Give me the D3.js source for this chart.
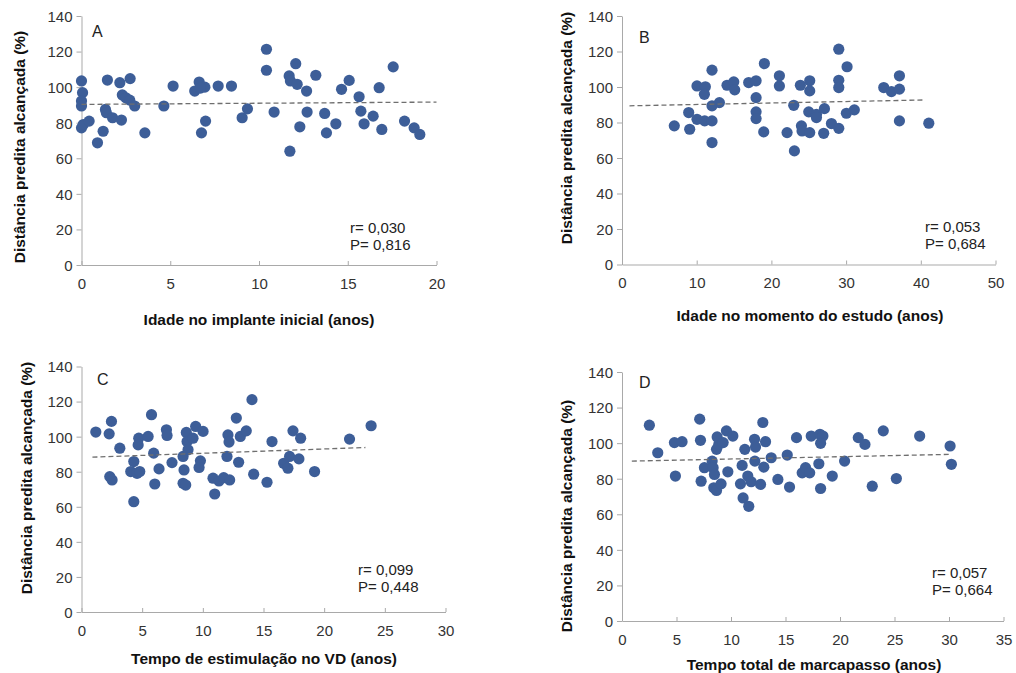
<!DOCTYPE html>
<html>
<head>
<meta charset="utf-8">
<script src="https://cdn.jsdelivr.net/npm/d3@7"></script>
<style>
  body { margin: 0; background: #fff; }
  text { font-family: "Liberation Sans", Arial, sans-serif; }
  .tick text { fill: #333; font-size: 15px; }
  .tick line, .domain { stroke: #a9a9a9; }
  .axisTitle { font-weight: bold; font-size: 15.5px; fill: #111; }
  .note { font-size: 15px; fill: #222; }
  .letter { font-size: 16px; fill: #222; }
</style>
</head>
<body>
<div id="chart"></div>
<script>
// panel A - idade no implante inicial
var aX = [0,0.06,0,0,0,0.1,0.43,0.9,1.22,1.35,1.4,1.46,1.75,2.25,2.16,2.3,2.5,2.72,2.74,3.0,
  3.57,4.64,5.16,6.38,6.63,6.76,6.95,6.99,6.7,7.7,8.45,9.05,9.35,10.42,10.42,10.85,11.74,11.7,11.77,12.15,
  12.07,12.3,12.68,12.71,13.2,13.7,13.8,14.33,14.65,15.08,15.64,15.74,15.92,16.43,16.77,16.92,17.56,18.2,18.74,19.06];
var aY = [103.5,96.9,92.2,89.4,77.1,79,80.9,68.7,75.2,87.5,85.6,104,82.8,81.5,102.5,95.6,94,92.7,104.8,89.4,
  74.3,89.4,100.6,97.8,102.9,74.3,100,80.9,99.5,100.6,100.6,82.8,87.8,121.3,109.5,86,64,106.3,103.5,101.6,
  113.2,77.7,97.8,86,106.7,85.2,74.3,79.4,98.8,103.8,94.6,86.5,79.4,83.7,99.7,76.2,111.4,80.9,77.1,73.4];
var aTrendX = [0, 20];
var aTrendY = [90.3, 91.6];
var aXTicks = [0, 5, 10, 15, 20];
var aStats = ["r= 0,030", "P= 0,816"];

// panel B - idade no momento do estudo
var bX = [7.0,8.93,9.06,10.04,10.04,11.16,11.03,11.07,12.05,12.05,12.05,12.05,13.04,14.06,14.96,15.09,16.96,17.95,17.95,17.95,
  17.95,19.06,18.97,21.07,21.07,22.1,22.99,23.08,23.88,24.02,24.1,25.13,25.13,25.13,25.0,26.03,26.03,27.1,27.0,28.04,
  29.02,29.02,29.02,29.02,30.13,30.04,31.1,35.04,36.07,37.14,37.14,37.14,41.07];
var bY = [78.1,85.6,76.2,100.6,81.8,100.1,95.9,80.9,109.5,80.9,68.7,89.4,91.2,101,102.9,98.4,102.5,103.5,94,86,
  82.2,113.2,74.7,106.3,100.6,74.3,89.7,64,101,78.1,75.2,103.5,97.8,74.3,86,84.6,82.8,87.8,73.9,79.4,
  76.7,121.3,103.8,99.7,111.4,85.2,87.1,99.7,97.4,98.8,106.3,80.9,79.6];
var bTrendX = [1.0, 40.6];
var bTrendY = [89.4, 92.7];
var bXTicks = [0, 10, 20, 30, 40, 50];
var bStats = ["r= 0,053", "P= 0,684"];

// panel C - tempo de estimulacao no VD
var cX = [1.18,2.28,2.47,2.33,2.52,3.16,4.31,4.31,4.06,4.58,4.8,4.72,4.67,5.49,5.77,5.95,6.04,6.39,7.0,7.05,
  7.46,8.37,8.45,8.37,8.59,8.64,8.7,8.78,9.19,9.41,10.02,9.8,9.69,10.84,10.98,11.33,11.72,12.21,12.07,12.16,
  11.99,12.95,12.76,13.09,13.58,14.05,14.19,15.7,15.29,16.66,17.01,17.15,17.43,17.92,18.06,19.21,22.09,23.87];
var cY = [102.6,101.6,108.7,77.2,75.3,93.4,85.8,62.9,80.1,79.1,80.1,99.1,95.3,100.1,112.5,90.6,73,81.6,103.9,100.7,
  85.2,88.7,81,73.4,72.4,102.4,97.2,92.5,99.1,105.8,103,86.2,82.4,76.3,67.3,74.7,76.6,75.3,101,96.9,
  88.7,85.4,110.6,100.1,103.3,121.1,78.6,97.2,74,84.8,82,88.7,103.3,87.3,99.1,80.1,98.6,106.2];
var cTrendX = [0.9, 23.4];
var cTrendY = [88.3, 93.8];
var cXTicks = [0, 5, 10, 15, 20, 25, 30];
var cStats = ["r= 0,099", "P= 0,448"];

// panel D - tempo total de marcapasso
var dX = [2.51,3.28,4.81,5.51,4.9,7.13,7.2,7.26,7.56,8.27,8.36,8.48,8.42,8.67,9.09,8.67,8.88,8.73,9.28,9.58,
  10.17,9.71,11.02,11.27,10.87,11.11,11.63,11.54,11.85,12.16,12.25,12.19,12.71,13.01,12.92,13.17,13.69,14.3,15.16,15.37,
  16.01,16.53,16.84,17.22,17.36,18.16,18.43,18.22,18.06,18.22,19.29,20.42,21.68,22.29,22.96,23.97,25.17,27.31,30.1,30.22];
var dY = [110.1,94.6,100.3,100.8,81.5,113.5,101.6,78.6,86.2,89.9,86.2,82.4,74.9,73.4,77.1,96.5,99.3,103.5,100.3,106.9,
  104,83.9,87.5,96.5,77.1,69.2,64.5,81.5,78.3,102.2,97.8,89.9,76.8,86.5,111.6,100.8,91.8,79.6,93.3,75.3,
  103.1,83.3,86.2,83.3,104,105,104,99.9,88.4,74.5,81.5,89.9,103.1,99.3,75.8,106.9,80.1,104,98.4,88.1];
var dTrendX = [0.9, 30.2];
var dTrendY = [89.9, 93.7];
var dXTicks = [0, 5, 10, 15, 20, 25, 30, 35];
var dStats = ["r= 0,057", "P= 0,664"];

var yTicks = [0, 20, 40, 60, 80, 100, 120, 140];
var yTitle = "Distância predita alcançada (%)";

var svgWidth = 1016;
var svgHeight = 673;
var dotColor = "#3d5e98";

var svg = d3.select("#chart")
  .append("svg")
  .attr("width", svgWidth)
  .attr("height", svgHeight);

var panels = [
  { letter: "A", xs: aX, ys: aY, tx: aTrendX, ty: aTrendY, ticks: aXTicks, stats: aStats,
    xTitle: "Idade no implante inicial (anos)",
    left: 81.5, right: 436.5, top: 16, bottom: 265,
    yTitleX: 20, yTitleY: 147, xTitleX: 259, xTitleY: 325,
    letterX: 92, letterY: 37, statX: 350, statY: 233 },
  { letter: "B", xs: bX, ys: bY, tx: bTrendX, ty: bTrendY, ticks: bXTicks, stats: bStats,
    xTitle: "Idade no momento do estudo (anos)",
    left: 622, right: 995.5, top: 16, bottom: 264.5,
    yTitleX: 567, yTitleY: 128, xTitleX: 810, xTitleY: 321,
    letterX: 639, letterY: 43, statX: 925, statY: 232 },
  { letter: "C", xs: cX, ys: cY, tx: cTrendX, ty: cTrendY, ticks: cXTicks, stats: cStats,
    xTitle: "Tempo de estimulação no VD (anos)",
    left: 81.5, right: 445.5, top: 366.5, bottom: 612,
    yTitleX: 27, yTitleY: 478, xTitleX: 264, xTitleY: 664,
    letterX: 97, letterY: 385, statX: 358, statY: 575 },
  { letter: "D", xs: dX, ys: dY, tx: dTrendX, ty: dTrendY, ticks: dXTicks, stats: dStats,
    xTitle: "Tempo total de marcapasso (anos)",
    left: 622, right: 1003.5, top: 372, bottom: 621,
    yTitleX: 567, yTitleY: 516, xTitleX: 814, xTitleY: 670,
    letterX: 639, letterY: 388, statX: 932, statY: 578 }
];

panels.forEach(function(p) {
  var xScale = d3.scaleLinear()
    .domain([0, d3.max(p.ticks)])
    .range([p.left, p.right]);

  var yScale = d3.scaleLinear()
    .domain([0, 140])
    .range([p.bottom, p.top]);

  var g = svg.append("g");

  g.append("g")
    .attr("transform", `translate(${p.left}, 0)`)
    .call(d3.axisLeft(yScale).tickValues(yTicks).tickSize(5).tickSizeOuter(0).tickPadding(4))
    .call(a => a.selectAll("text").attr("dy", "0.36em"));

  g.append("g")
    .attr("transform", `translate(0, ${p.bottom})`)
    .call(d3.axisBottom(xScale).tickValues(p.ticks).tickSize(-4).tickSizeOuter(0).tickPadding(13));

  g.selectAll(".domain").attr("stroke", "#a9a9a9");
  g.selectAll(".tick line").attr("stroke", "#a9a9a9");
  g.selectAll(".tick text").attr("font-size", 15).attr("fill", "#333")
    .style("font-family", "'Liberation Sans', Arial, sans-serif");

  // dots
  var pts = p.xs.map((x, i) => ({ x: x, y: p.ys[i] }));
  g.selectAll("circle")
    .data(pts)
    .enter()
    .append("circle")
    .attr("cx", d => xScale(d.x))
    .attr("cy", d => yScale(d.y))
    .attr("r", 5.6)
    .attr("fill", dotColor);

  // trend line
  g.append("line")
    .attr("x1", xScale(p.tx[0]))
    .attr("y1", yScale(p.ty[0]))
    .attr("x2", xScale(p.tx[1]))
    .attr("y2", yScale(p.ty[1]))
    .attr("stroke", "#6f6f6f")
    .attr("stroke-width", 1.3)
    .attr("stroke-dasharray", "5,3");

  g.append("text")
    .attr("class", "letter")
    .attr("x", p.letterX)
    .attr("y", p.letterY)
    .text(p.letter);

  g.append("text")
    .attr("class", "note")
    .attr("x", p.statX)
    .attr("y", p.statY)
    .text(p.stats[0]);

  g.append("text")
    .attr("class", "note")
    .attr("x", p.statX)
    .attr("y", p.statY + 17)
    .text(p.stats[1]);

  g.append("text")
    .attr("class", "axisTitle")
    .attr("text-anchor", "middle")
    .attr("transform", `translate(${p.yTitleX}, ${p.yTitleY}) rotate(-90)`)
    .attr("dy", "0.35em")
    .text(yTitle);

  g.append("text")
    .attr("class", "axisTitle")
    .attr("text-anchor", "middle")
    .attr("x", p.xTitleX)
    .attr("y", p.xTitleY)
    .text(p.xTitle);
});
</script>
</body>
</html>
